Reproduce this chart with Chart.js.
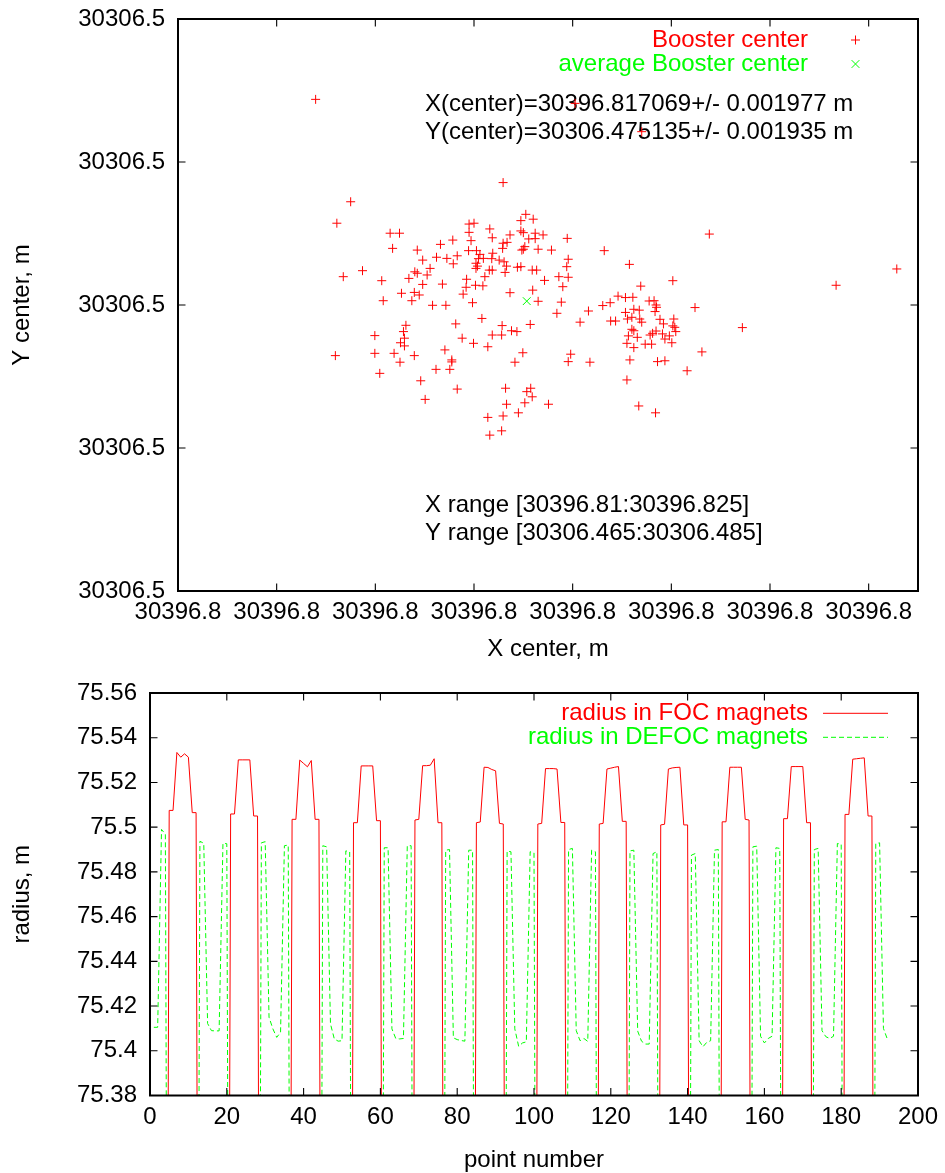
<!DOCTYPE html>
<html><head><meta charset="utf-8">
<script src="https://cdn.jsdelivr.net/npm/chart.js@4.4.1/dist/chart.umd.min.js"></script>
<style>
html,body{margin:0;padding:0;background:#fff;overflow:hidden;width:945px;height:1173px;}
canvas{position:absolute;left:0;}
#c1{top:0;} #c2{top:660px;}
</style></head><body>
<canvas id="c1" width="945" height="662"></canvas>
<canvas id="c2" width="945" height="513"></canvas>
<script>
// ---------------- top panel data ----------------
const boosterX = [
30396.81659,30396.81350,30396.81322,30396.81705,30396.81695,30396.81720,30396.81590,30396.81600,30396.81632,30396.81590,
30396.81430,30396.81449,30396.81695,30396.81700,30396.81724,30396.81740,30396.81637,30396.81673,30396.81711,30396.81724,
30396.81594,30396.81557,30396.81532,30396.81789,30396.81659,30396.81667,30396.81435,30396.81485,30396.81658,30396.81703,
30396.81700,30396.81697,30396.81730,30396.81757,30396.81589,30396.81605,30396.81612,30396.81638,30396.81566,30396.81524,
30396.81545,30396.81496,30396.81609,30396.81619,30396.81636,30396.81651,30396.81661,30396.81558,30396.81791,30396.81788,
30396.81511,30396.81604,30396.81607,30396.81604,30396.81637,30396.81631,30396.81666,30396.81688,30396.81695,30396.81718,
30396.81727,30396.81663,30396.81374,30396.81480,30396.81485,30396.81505,30396.81335,30396.81413,30396.81468,30396.81585,
30396.81622,30396.81743,30396.81772,30396.81791,30396.81496,30396.81536,30396.81584,30396.81603,30396.81618,30396.81780,
30396.81453,30396.81479,30396.81489,30396.81673,30396.81719,30396.81578,30396.81416,30396.81474,30396.81516,30396.81543,
30396.81597,30396.81730,30396.81777,30396.81768,30396.81832,30396.81616,30396.81563,30396.81462,30396.81657,
30396.81714,30396.81815,30396.81676,30396.81687,30396.81457,30396.81459,30396.81399,30396.81576,30396.81637,30396.81656,
30396.81451,30396.81459,30396.81599,30396.81628,30396.81319,30396.81399,30396.81438,30396.81479,30396.81541,30396.81699,
30396.81796,30396.81791,30396.81835,30396.81450,30396.81555,30396.81555,30396.81683,30396.81409,30396.81523,30396.81551,
30396.81492,30396.81566,30396.81664,30396.81707,30396.81715,30396.81718,30396.81501,30396.81666,30396.81703,30396.81751,
30396.81690,30396.81628,30396.81659,30396.81632,30396.81656,
30396.82077,30396.81864,30396.81915,30396.82003,30396.81938,30396.82457,30396.82334,30396.81892,30396.81907,30396.81922,
30396.81861,30396.81876,30396.81955,30396.81965,30396.81969,30396.81970,30396.82048,30396.81907,30396.81924,30396.81935,
30396.81967,30396.81911,30396.81920,30396.81936,30396.81977,30396.82005,30396.81877,30396.81887,30396.81940,30396.81984,
30396.82003,30396.82007,30396.82144,30396.81920,30396.81924,30396.81969,30396.81962,30396.81982,30396.82009,30396.81913,
30396.81931,30396.81957,30396.81996,30396.81987,30396.81910,30396.81947,30396.81960,30396.82001,30396.81924,30396.82062,
30396.81916,30396.81972,30396.81987,30396.82032,30396.81910,30396.81934,30396.81968,
30396.81279,30396.81805,30396.81940
];
const boosterY = [
30306.47928,30306.47861,30306.47786,30306.47817,30306.47795,30306.47800,30306.47783,30306.47786,30306.47766,30306.47754,
30306.47751,30306.47751,30306.47759,30306.47753,30306.47751,30306.47745,30306.47735,30306.47745,30306.47731,30306.47732,
30306.47725,30306.47727,30306.47712,30306.47733,30306.47716,30306.47719,30306.47698,30306.47692,30306.47698,30306.47704,
30306.47695,30306.47692,30306.47695,30306.47692,30306.47690,30306.47690,30306.47677,30306.47681,30306.47672,30306.47667,
30306.47663,30306.47657,30306.47662,30306.47663,30306.47662,30306.47657,30306.47651,30306.47644,30306.47660,30306.47634,
30306.47628,30306.47646,30306.47636,30306.47628,30306.47622,30306.47622,30306.47636,30306.47632,30306.47634,30306.47622,
30306.47622,30306.47614,30306.47620,30306.47616,30306.47611,30306.47605,30306.47599,30306.47585,30306.47593,30306.47590,
30306.47599,30306.47586,30306.47599,30306.47597,30306.47572,30306.47573,30306.47562,30306.47569,30306.47567,30306.47564,
30306.47541,30306.47544,30306.47535,30306.47543,30306.47552,30306.47538,30306.47515,30306.47515,30306.47499,30306.47499,
30306.47508,30306.47513,30306.47510,30306.47471,30306.47479,30306.47453,30306.47434,30306.47429,30306.47428,
30306.47432,30306.47440,30306.47410,30306.47407,30306.47407,30306.47384,30306.47393,30306.47384,30306.47395,30306.47395,
30306.47368,30306.47357,30306.47366,30306.47354,30306.47323,30306.47331,30306.47331,30306.47323,30306.47343,30306.47333,
30306.47328,30306.47302,30306.47300,30306.47300,30306.47308,30306.47301,30306.47300,30306.47261,30306.47275,30306.47275,
30306.47235,30306.47206,30306.47209,30306.47197,30306.47209,30306.47179,30306.47170,30306.47153,30306.47158,30306.47153,
30306.47123,30306.47107,30306.47112,30306.47045,30306.47060,
30306.47748,30306.47690,30306.47642,30306.47585,30306.47566,30306.47626,30306.47569,30306.47531,30306.47526,30306.47527,
30306.47498,30306.47508,30306.47514,30306.47515,30306.47500,30306.47492,30306.47491,30306.47474,30306.47485,30306.47482,
30306.47477,30306.47451,30306.47457,30306.47451,30306.47450,30306.47451,30306.47444,30306.47444,30306.47440,30306.47434,
30306.47427,30306.47422,30306.47421,30306.47415,30306.47410,30306.47409,30306.47401,30306.47399,30306.47407,30306.47392,
30306.47387,30306.47395,30306.47392,30306.47381,30306.47366,30306.47363,30306.47363,30306.47368,30306.47351,30306.47336,
30306.47308,30306.47302,30306.47305,30306.47270,30306.47238,30306.47147,30306.47123,
30306.48219,30306.48205,30306.48106
];
const averageX = [30396.817069];
const averageY = [30306.475135];
const averageXErr = 0.001977;
const averageYErr = 0.001935;
const centerXRange = [30396.81, 30396.825];
const centerYRange = [30306.465, 30306.485];
const centerXTicks = [30396.810, 30396.812, 30396.814, 30396.816, 30396.818, 30396.820, 30396.822, 30396.824];
const centerYTicks = [30306.465, 30306.470, 30306.475, 30306.480, 30306.485];

// ---------------- bottom panel data ----------------
const OFF = 75.0; // value lies below the plotted radius range
const pointNumber = [
1,2,3,4,5,6,7,8,9,10,11,12,13,14,15,16,
17,18,19,20,21,22,23,24,25,26,27,28,29,30,31,32,
33,34,35,36,37,38,39,40,41,42,43,44,45,46,47,48,
49,50,51,52,53,54,55,56,57,58,59,60,61,62,63,64,
65,66,67,68,69,70,71,72,73,74,75,76,77,78,79,80,
81,82,83,84,85,86,87,88,89,90,91,92,93,94,95,96,
97,98,99,100,101,102,103,104,105,106,107,108,109,110,111,112,
113,114,115,116,117,118,119,120,121,122,123,124,125,126,127,128,
129,130,131,132,133,134,135,136,137,138,139,140,141,142,143,144,
145,146,147,148,149,150,151,152,153,154,155,156,157,158,159,160,
161,162,163,164,165,166,167,168,169,170,171,172,173,174,175,176,
177,178,179,180,181,182,183,184,185,186,187,188,189,190,191,192
];
const focRadius = [
OFF,OFF,OFF,OFF,75.5075,75.5075,75.5334,75.5313,75.5328,75.5313,75.5065,75.5065,OFF,OFF,OFF,OFF,
OFF,OFF,OFF,OFF,75.5059,75.5059,75.5301,75.5301,75.5301,75.5301,75.5050,75.5050,OFF,OFF,OFF,OFF,
OFF,OFF,OFF,OFF,75.5035,75.5035,75.5300,75.5285,75.5270,75.5298,75.5035,75.5035,OFF,OFF,OFF,OFF,
OFF,OFF,OFF,OFF,75.5020,75.5020,75.5274,75.5274,75.5274,75.5274,75.5029,75.5029,OFF,OFF,OFF,OFF,
OFF,OFF,OFF,OFF,75.5032,75.5035,75.5275,75.5275,75.5277,75.5306,75.5020,75.5020,OFF,OFF,OFF,OFF,
OFF,OFF,OFF,OFF,75.5020,75.5023,75.5268,75.5267,75.5258,75.5252,75.5017,75.5014,OFF,OFF,OFF,OFF,
OFF,OFF,OFF,OFF,75.5014,75.5017,75.5262,75.5262,75.5262,75.5260,75.5021,75.5021,OFF,OFF,OFF,OFF,
OFF,OFF,OFF,OFF,75.5014,75.5017,75.5260,75.5264,75.5268,75.5271,75.5026,75.5026,OFF,OFF,OFF,OFF,
OFF,OFF,OFF,OFF,75.5010,75.5013,75.5260,75.5265,75.5267,75.5268,75.5010,75.5010,OFF,OFF,OFF,OFF,
OFF,OFF,OFF,OFF,75.5024,75.5024,75.5268,75.5268,75.5268,75.5268,75.5035,75.5032,OFF,OFF,OFF,OFF,
OFF,OFF,OFF,OFF,75.5038,75.5038,75.5271,75.5271,75.5271,75.5271,75.5020,75.5020,OFF,OFF,OFF,OFF,
OFF,OFF,OFF,OFF,75.5057,75.5057,75.5304,75.5306,75.5308,75.5310,75.5050,75.5050,OFF,OFF,OFF,OFF
];
const defocRadius = [
75.4105,75.4105,75.4990,75.4968,OFF,OFF,OFF,OFF,OFF,OFF,OFF,OFF,75.4937,75.4928,75.4122,75.4090,
75.4089,75.4089,75.4928,75.4926,OFF,OFF,OFF,OFF,OFF,OFF,OFF,OFF,75.4930,75.4935,75.4150,75.4098,
75.4060,75.4083,75.4917,75.4920,OFF,OFF,OFF,OFF,OFF,OFF,OFF,OFF,75.4917,75.4912,75.4120,75.4053,
75.4043,75.4045,75.4894,75.4890,OFF,OFF,OFF,OFF,OFF,OFF,OFF,OFF,75.4908,75.4908,75.4098,75.4055,
75.4053,75.4055,75.4917,75.4917,OFF,OFF,OFF,OFF,OFF,OFF,OFF,OFF,75.4897,75.4900,75.4058,75.4050,
75.4046,75.4043,75.4897,75.4897,OFF,OFF,OFF,OFF,OFF,OFF,OFF,OFF,75.4893,75.4890,75.4098,75.4020,
75.4035,75.4040,75.4890,75.4885,OFF,OFF,OFF,OFF,OFF,OFF,OFF,OFF,75.4900,75.4905,75.4090,75.4045,
75.4055,75.4042,75.4897,75.4890,OFF,OFF,OFF,OFF,OFF,OFF,OFF,OFF,75.4894,75.4897,75.4088,75.4043,
75.4030,75.4030,75.4882,75.4890,OFF,OFF,OFF,OFF,OFF,OFF,OFF,OFF,75.4875,75.4882,75.4045,75.4018,
75.4038,75.4045,75.4897,75.4900,OFF,OFF,OFF,OFF,OFF,OFF,OFF,OFF,75.4912,75.4915,75.4065,75.4035,
75.4055,75.4065,75.4908,75.4905,OFF,OFF,OFF,OFF,OFF,OFF,OFF,OFF,75.4900,75.4905,75.4090,75.4063,
75.4055,75.4065,75.4927,75.4924,OFF,OFF,OFF,OFF,OFF,OFF,OFF,OFF,75.4927,75.4930,75.4100,75.4053
];
const radiusRange = [75.38, 75.56];
const pointRange = [0, 200];
const pointTicks = [0, 20, 40, 60, 80, 100, 120, 140, 160, 180, 200];
const radiusTicks = [75.38, 75.40, 75.42, 75.44, 75.46, 75.48, 75.50, 75.52, 75.54, 75.56];

// ---------------- styling / helpers ----------------
const FAMILY = '"Liberation Sans", Arial, Helvetica, sans-serif';
const FS = 24;
const RED = '#ff0000', GREEN = '#00ff00';
const TICK_LEN = 7.5;
Chart.defaults.font.family = FAMILY;
Chart.defaults.color = '#000';

function frame(chart) {
  const {ctx, chartArea: a, scales} = chart;
  ctx.save();
  ctx.strokeStyle = '#000';
  ctx.lineWidth = 1.1;
  ctx.beginPath();
  scales.x.ticks.forEach(t => {
    const p = scales.x.getPixelForValue(t.value);
    ctx.moveTo(p, a.bottom); ctx.lineTo(p, a.bottom - TICK_LEN);
    ctx.moveTo(p, a.top); ctx.lineTo(p, a.top + TICK_LEN);
  });
  scales.y.ticks.forEach(t => {
    const p = scales.y.getPixelForValue(t.value);
    ctx.moveTo(a.left, p); ctx.lineTo(a.left + TICK_LEN, p);
    ctx.moveTo(a.right, p); ctx.lineTo(a.right - TICK_LEN, p);
  });
  ctx.stroke();
  ctx.lineWidth = 2;
  ctx.strokeRect(a.left, a.top, a.right - a.left, a.bottom - a.top);
  ctx.restore();
}

function axisTicks(values) {
  return s => { s.ticks = values.map(v => ({value: v})); };
}
const tickFont = {family: FAMILY, size: FS, lineHeight: 1.2};
const titleFont = {family: FAMILY, size: FS, lineHeight: 1};

// ---------------- top chart ----------------
const topNotes = [
  {text: 'X(center)=' + averageX[0].toFixed(6) + '+/- ' + averageXErr.toFixed(6) + ' m', x: 425, y: 104},
  {text: 'Y(center)=' + averageY[0].toFixed(6) + '+/- ' + averageYErr.toFixed(6) + ' m', x: 425, y: 132},
  {text: 'X range [' + centerXRange[0] + ':' + centerXRange[1] + ']', x: 425, y: 505.5},
  {text: 'Y range [' + centerYRange[0] + ':' + centerYRange[1] + ']', x: 425, y: 533.5}
];

const topPlugin = {
  id: 'topDecor',
  beforeDatasetsDraw(chart) {
    const ctx = chart.ctx;
    ctx.save();
    ctx.font = FS + 'px ' + FAMILY;
    ctx.fillStyle = '#000';
    ctx.textAlign = 'left';
    ctx.textBaseline = 'middle';
    topNotes.forEach(n => ctx.fillText(n.text, n.x, n.y));
    ctx.restore();
  },
  afterDatasetsDraw(chart) {
    frame(chart);
    const ctx = chart.ctx;
    ctx.save();
    ctx.font = FS + 'px ' + FAMILY;
    ctx.textAlign = 'right';
    ctx.textBaseline = 'middle';
    chart.data.datasets.forEach((ds, i) => {
      const y = 40 + i * 24;
      ctx.fillStyle = ds.borderColor;
      ctx.fillText(ds.label, 808, y);
      const cx = 855.5, r = ds.pointRadius;
      ctx.strokeStyle = ds.borderColor;
      ctx.lineWidth = 1;
      ctx.beginPath();
      if (ds.pointStyle === 'cross') {
        ctx.moveTo(cx - r, y); ctx.lineTo(cx + r, y);
        ctx.moveTo(cx, y - r); ctx.lineTo(cx, y + r);
      } else {
        const d = r * Math.SQRT1_2;
        ctx.moveTo(cx - d, y - d); ctx.lineTo(cx + d, y + d);
        ctx.moveTo(cx - d, y + d); ctx.lineTo(cx + d, y - d);
      }
      ctx.stroke();
    });
    ctx.restore();
  }
};

new Chart(document.getElementById('c1'), {
  type: 'scatter',
  data: {
    datasets: [
      {label: 'Booster center', data: boosterX.map((x, i) => ({x: x, y: boosterY[i]})),
       pointStyle: 'cross', pointRadius: 4.5, borderColor: RED, backgroundColor: RED, borderWidth: 1, order: 1},
      {label: 'average Booster center', data: averageX.map((x, i) => ({x: x, y: averageY[i]})),
       pointStyle: 'crossRot', pointRadius: 5.5, borderColor: GREEN, backgroundColor: GREEN, borderWidth: 1, order: 0}
    ]
  },
  options: {
    responsive: false, animation: false, devicePixelRatio: 1, events: [],
    layout: {padding: {left: 0, right: 27, top: 19, bottom: 0}},
    plugins: {legend: {display: false}, tooltip: {enabled: false}},
    scales: {
      x: {
        type: 'linear', min: centerXRange[0], max: centerXRange[1],
        grid: {display: false, drawTicks: false}, border: {display: false},
        ticks: {font: tickFont, color: '#000', padding: 7, autoSkip: false, maxRotation: 0,
                callback: v => Number(v).toFixed(1)},
        afterBuildTicks: axisTicks(centerXTicks),
        afterFit: s => { s.height = 71; s.paddingLeft = 0; s.paddingRight = 0; },
        title: {display: true, text: 'X center, m', font: titleFont, color: '#000', padding: {top: 0, bottom: 1}}
      },
      y: {
        type: 'linear', min: centerYRange[0], max: centerYRange[1],
        grid: {display: false, drawTicks: false}, border: {display: false},
        ticks: {font: tickFont, color: '#000', padding: 13, autoSkip: false,
                callback: v => Number(v).toFixed(1)},
        afterBuildTicks: axisTicks(centerYTicks),
        afterFit: s => { s.width = 178; s.paddingTop = 0; s.paddingBottom = 0; },
        title: {display: true, text: 'Y center, m', font: titleFont, color: '#000', padding: {top: 10, bottom: 0}}
      }
    }
  },
  plugins: [topPlugin]
});

// ---------------- bottom chart ----------------
const bottomPlugin = {
  id: 'bottomDecor',
  afterDatasetsDraw(chart) {
    frame(chart);
    const ctx = chart.ctx;
    ctx.save();
    ctx.font = FS + 'px ' + FAMILY;
    ctx.textAlign = 'right';
    ctx.textBaseline = 'middle';
    chart.data.datasets.forEach((ds, i) => {
      const y = 53.3 + i * 24;
      ctx.fillStyle = ds.borderColor;
      ctx.fillText(ds.label, 808, y);
      ctx.strokeStyle = ds.borderColor;
      ctx.lineWidth = ds.borderWidth;
      ctx.setLineDash(ds.borderDash || []);
      ctx.beginPath();
      ctx.moveTo(823, y); ctx.lineTo(888, y);
      ctx.stroke();
    });
    ctx.restore();
  }
};

new Chart(document.getElementById('c2'), {
  type: 'line',
  data: {
    datasets: [
      {label: 'radius in FOC magnets', data: focRadius.map((r, i) => ({x: pointNumber[i], y: r})),
       borderColor: RED, borderWidth: 1, pointRadius: 0, tension: 0, fill: false, order: 1},
      {label: 'radius in DEFOC magnets', data: defocRadius.map((r, i) => ({x: pointNumber[i], y: r})),
       borderColor: GREEN, borderWidth: 1, borderDash: [5, 3], pointRadius: 0, tension: 0, fill: false, order: 0}
    ]
  },
  options: {
    responsive: false, animation: false, devicePixelRatio: 1, events: [],
    layout: {padding: {left: 0, right: 27, top: 33, bottom: 0}},
    plugins: {legend: {display: false}, tooltip: {enabled: false}},
    scales: {
      x: {
        type: 'linear', min: pointRange[0], max: pointRange[1],
        grid: {display: false, drawTicks: false}, border: {display: false},
        ticks: {font: tickFont, color: '#000', padding: 7, autoSkip: false, maxRotation: 0,
                callback: v => String(v)},
        afterBuildTicks: axisTicks(pointTicks),
        afterFit: s => { s.height = 77.5; s.paddingLeft = 0; s.paddingRight = 0; },
        title: {display: true, text: 'point number', font: titleFont, color: '#000', padding: {top: 0, bottom: 1}}
      },
      y: {
        type: 'linear', min: radiusRange[0], max: radiusRange[1],
        grid: {display: false, drawTicks: false}, border: {display: false},
        ticks: {font: tickFont, color: '#000', padding: 13, autoSkip: false,
                callback: v => String(Number(Number(v).toFixed(2)))},
        afterBuildTicks: axisTicks(radiusTicks),
        afterFit: s => { s.width = 150; s.paddingTop = 0; s.paddingBottom = 0; },
        title: {display: true, text: 'radius, m', font: titleFont, color: '#000', padding: {top: 10, bottom: 0}}
      }
    }
  },
  plugins: [bottomPlugin]
});
</script>
</body></html>
